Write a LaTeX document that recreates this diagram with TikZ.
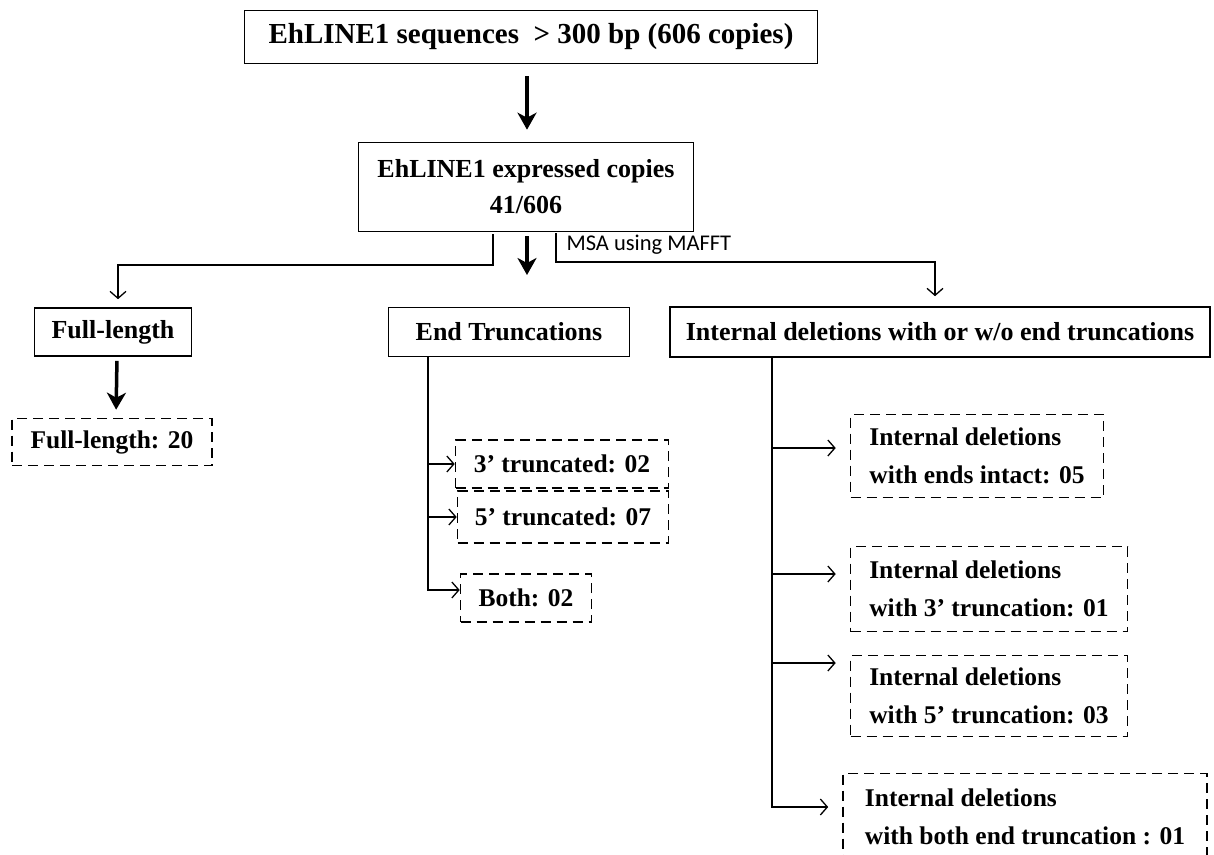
\documentclass[tikz,border=0pt]{standalone}
\usepackage{fontspec}
\setmainfont{Liberation Serif}
\newfontfamily\msafont{Carlito}
\usepackage{tikz}
\usetikzlibrary{positioning}
\usetikzlibrary{arrows.meta,calc}

\tikzset{
	flowbox/.style={draw, line width=1.6pt, align=center, inner sep=0pt,
		font=\fontsize{26}{36}\selectfont\bfseries},
	countbox/.style={draw, line width=1.6pt, dash pattern=on 10pt off 6pt,
		align=left, inner sep=0pt, font=\fontsize{25.5}{38}\selectfont\bfseries},
	bigarrow/.style={line width=3.5pt, -{Stealth[length=17pt,width=19pt,inset=5pt]}},
	splitarrow/.style={line width=1.3pt, -{Straight Barb[length=7pt,width=16pt,line width=1.3pt]}},
}

\begin{document}
\begin{tikzpicture}[x=1pt,y=-1pt]
	
	% ------------------------------------------------
	% Fix the size of the picture
	\useasboundingbox (0,0) rectangle (1214,854);
	
	% ------------------------------------------------
	% Main boxes
	\node[flowbox, minimum width=573, minimum height=53, font=\fontsize{29}{36}\selectfont\bfseries] (Seqs) at (531,37)
		{EhLINE1 sequences~ > 300 bp (606 copies)};
	\node[flowbox, minimum width=335, minimum height=89] (Expr) at (526,187)
		{EhLINE1 expressed copies\\41/606};
	
	\node[flowbox, minimum width=157, minimum height=48] (Full) at (113,332) {Full-length};
	\node[flowbox, minimum width=241, minimum height=49] (EndTr) at (509,332) {End Truncations};
	\node[flowbox, minimum width=540, minimum height=50] (IntDel) at (940,332)
		{Internal deletions with or w/o end truncations};
	
	% ------------------------------------------------
	% Counts
	\node[countbox, minimum width=200, minimum height=47] (FullN) at (112,442) {Full-length: 20};
	
	\node[countbox, minimum width=213, minimum height=48] (Tr3) at (562,464) {3’ truncated: 02};
	\node[countbox, minimum width=211, minimum height=52] (Tr5) at (563,517) {5’ truncated: 07};
	\node[countbox, minimum width=131, minimum height=48] (TrBoth) at (526,598) {Both: 02};
	
	\node[countbox, minimum width=253, minimum height=83] (IdIntact) at (977,456)
		{Internal deletions\\with ends intact: 05};
	\node[countbox, minimum width=277, minimum height=85] (IdTr3) at (989,589)
		{Internal deletions\\with 3’ truncation: 01};
	\node[countbox, minimum width=277, minimum height=81] (IdTr5) at (989,696)
		{Internal deletions\\with 5’ truncation: 03};
	\node[countbox, minimum width=364, minimum height=87] (IdBoth) at (1025,817)
		{Internal deletions\\with both end truncation : 01};
	
	% ------------------------------------------------
	% Split points below the expressed copies
	\coordinate (LeftSplit)  at (493,265);
	\coordinate (MidSplit)   at (527,275);
	\coordinate (RightSplit) at (556,262);
	
	% Trunks of the two branches
	\coordinate (EndTrunk) at (428,0);
	\coordinate (IntTrunk) at (772,0);
	
	%%%%%%%%%%%%%%%%%%%%%%%%%%%%%%%%%%%%%%%%%
	% Arrows
	\draw[bigarrow, shorten <=12pt, shorten >=12pt] (Seqs.south -| MidSplit) -- (Expr.north -| MidSplit);
	\draw[bigarrow, shorten <=4pt] (Expr.south -| MidSplit) -- (MidSplit);
	
	\draw[splitarrow, shorten <=2pt, shorten >=8pt] (Expr.south -| LeftSplit) -- (LeftSplit) -| ([xshift=5pt]Full.north);
	\draw[splitarrow, shorten <=1pt, shorten >=10pt] (Expr.south -| RightSplit) -- (RightSplit) -| ([xshift=-5pt]IntDel.north);
	\node[anchor=west, font=\msafont\fontsize{22.5}{26}\selectfont] (Msa) at (563,245) {MSA using MAFFT};
	
	\draw[bigarrow, shorten <=4pt, shorten >=8pt] ([xshift=4pt]Full.south) -- ([xshift=4pt]FullN.north);
	
	% End truncations
	\draw[splitarrow] (EndTr.south -| EndTrunk) |- ([yshift=8pt]TrBoth.west);
	\draw[splitarrow] (EndTrunk |- Tr3.west) -- (Tr3.west);
	\draw[splitarrow] (EndTrunk |- Tr5.west) -- (Tr5.west);
	
	% Internal deletions
	\draw[splitarrow, shorten >=14pt] (IntDel.south -| IntTrunk) |- ([yshift=10pt]IdBoth.west);
	\draw[splitarrow, shorten >=14pt] (IntTrunk |- IdIntact.west) ++(0,-8) -- ([yshift=8pt]IdIntact.west);
	\draw[splitarrow, shorten >=14pt] (IntTrunk |- IdTr3.west) ++(0,-15) -- ([yshift=15pt]IdTr3.west);
	\draw[splitarrow, shorten >=14pt] (IntTrunk |- IdTr5.west) ++(0,-33) -- ([yshift=33pt]IdTr5.west);
	
\end{tikzpicture}
\end{document}
